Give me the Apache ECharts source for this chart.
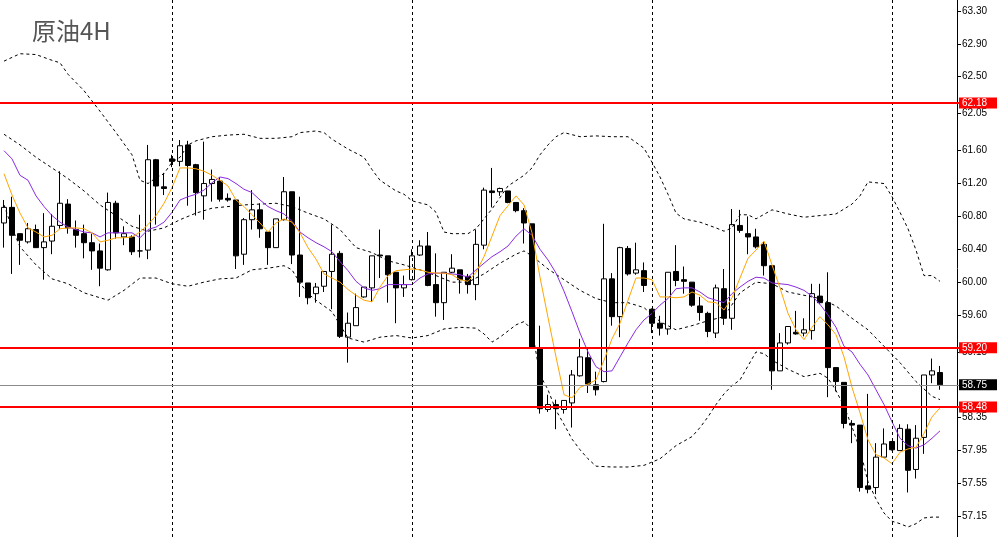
<!DOCTYPE html>
<html>
<head>
<meta charset="utf-8">
<title>原油4H</title>
<script src="https://cdn.jsdelivr.net/npm/echarts@6/dist/echarts.min.js"></script>
<style>
  html, body { margin: 0; padding: 0; background: #fff; }
  #chart { width: 997px; height: 537px; }
</style>
</head>
<body>
<div id="chart"></div>
<script>
// K线数据 (开/收/低/高)
const opens = [60.72,60.91,60.59,60.49,60.64,60.42,60.50,60.69,60.95,60.64, 60.59,60.48,60.38,60.15,60.96,60.55,60.55,60.38,60.39,61.49,
  61.16,61.50,61.47,61.67,61.43,61.05,61.20,61.23,61.02,61.00, 60.34,60.76,60.88,60.61,60.42,60.76,61.10,60.33,59.99,59.86,
  59.95,60.13,60.35,59.33,59.47,59.82,59.93,60.33,60.32,60.12, 59.93,60.03,60.33,60.44,59.97,59.75,60.12,60.15,60.07,59.97,
  60.45,61.11,61.10,61.11,60.97,60.87,60.71,59.19,58.45,58.51, 58.45,58.53,58.86,59.08,58.75,58.79,60.04,59.58,60.41,60.11,
  60.14,59.67,59.50,59.43,60.13,60.03,60.00,59.71,59.62,59.38, 59.92,59.56,60.69,60.59,60.55,60.46,60.20,58.92,59.26,59.39,
  59.38,59.41,59.83,59.75,58.96,58.78,58.28,58.26,57.52,57.50, 57.87,58.06,57.95,58.21,57.72,58.11,58.87,58.90];
const closes = [60.91,60.57,60.51,60.65,60.42,60.49,60.68,60.96,60.66,60.57, 60.48,60.38,60.17,60.97,60.60,60.59,60.37,60.38,61.49,61.17,
  61.14,61.47,61.66,61.42,61.09,61.20,61.25,61.01,61.00,60.32, 60.76,60.88,60.65,60.42,60.77,61.10,60.33,60.00,59.81,59.94,
  60.13,60.34,59.34,59.50,59.69,59.94,60.32,60.32,60.09,59.93, 59.97,60.32,60.44,59.96,59.75,60.12,60.17,60.03,59.97,60.46,
  61.12,61.09,61.14,60.97,60.87,60.72,59.20,58.46,58.51,58.46, 58.56,58.87,59.09,58.76,58.69,60.04,59.58,60.42,60.10,60.15,
  59.96,59.50,59.44,60.12,60.02,60.01,59.72,59.63,59.40,59.93, 59.56,60.70,60.63,60.55,60.43,60.20,58.92,59.26,59.46,59.37,
  59.42,59.86,59.75,58.96,58.79,58.28,58.26,57.50,57.48,57.87, 58.03,57.96,58.22,57.71,58.10,58.87,58.92,58.75];
const lows = [60.42,60.10,60.21,60.47,60.42,60.03,60.34,60.65,60.59,60.42, 60.29,60.15,59.95,60.14,60.53,60.45,60.33,60.30,60.28,60.70,
  61.06,61.40,61.41,60.93,60.81,60.76,60.98,60.98,60.98,60.16, 60.21,60.64,60.54,60.21,60.42,60.75,60.22,59.82,59.73,59.75,
  59.88,59.67,59.32,59.02,59.47,59.81,59.76,60.05,59.75,59.50, 59.82,60.02,60.32,59.95,59.58,59.54,60.11,59.86,59.86,59.78,
  60.40,60.91,61.05,60.96,60.85,60.47,59.20,58.40,58.42,58.21, 58.40,58.23,58.85,58.65,58.62,58.78,59.47,59.33,60.08,60.09,
  59.88,59.38,59.35,59.36,59.95,59.86,59.70,59.53,59.33,59.32, 59.48,59.42,60.60,60.34,60.41,60.08,58.69,58.92,59.24,59.36,
  59.34,59.30,59.73,58.60,58.67,58.22,58.04,57.45,57.43,57.42, 57.86,57.95,57.95,57.44,57.61,57.91,58.77,58.69];
const highs = [61.00,61.04,60.59,60.72,60.70,60.84,60.83,61.35,61.01,60.75, 60.70,60.59,60.47,61.09,60.99,60.68,60.57,60.82,61.67,61.50,
  61.33,61.55,61.73,61.72,61.44,61.71,61.37,61.28,61.08,61.00, 60.78,61.12,60.96,60.61,60.77,61.28,61.10,61.04,59.99,59.99,
  60.13,60.70,60.38,59.63,59.86,59.94,60.32,60.64,60.32,60.12, 60.08,60.40,60.51,60.61,60.35,60.12,60.34,60.15,60.10,60.64,
  61.15,61.39,61.15,61.11,60.97,60.90,60.71,59.47,58.63,58.57, 58.56,58.93,59.31,59.21,58.91,60.71,60.11,60.43,60.44,60.48,
  60.24,59.68,59.59,60.12,60.45,60.19,60.00,59.82,59.64,59.97, 60.16,60.89,60.88,60.80,60.65,60.49,60.20,59.38,59.46,59.65,
  59.56,59.98,59.98,60.12,58.96,58.78,58.32,58.26,58.64,58.04, 58.22,58.06,58.27,58.27,58.26,58.87,59.07,58.98];

// 均线 (橙色快线 / 紫色慢线)
const maFast = [61.32,61.06,60.84,60.66,60.61,60.55,60.57,60.65,60.66,60.66, 60.65,60.60,60.49,60.51,60.54,60.54,60.55,60.61,60.70,60.81,
  60.96,61.15,61.39,61.39,61.38,61.35,61.30,61.24,61.17,61.00, 60.92,60.82,60.72,60.61,60.72,60.77,60.73,60.60,60.42,60.28,
  60.10,60.05,60.00,59.91,59.84,59.78,59.76,59.94,60.08,60.14, 60.15,60.16,60.15,60.12,60.11,60.11,60.09,60.03,60.01,60.12,
  60.31,60.56,60.81,60.93,61.05,60.94,60.60,60.06,59.57,59.09, 58.63,58.59,58.72,58.76,58.81,59.05,59.31,59.50,59.78,60.05,
  60.05,60.03,59.82,59.82,59.81,59.82,59.88,59.84,59.76,59.75, 59.66,59.81,60.05,60.29,60.39,60.50,60.21,59.93,59.62,59.42,
  59.30,59.45,59.58,59.48,59.36,59.09,58.72,58.41,58.08,57.90, 57.86,57.79,57.93,57.97,57.99,58.16,58.36,58.47];
const maSlow = [61.60,61.50,61.30,61.24,61.05,60.92,60.81,60.73,60.67,60.64, 60.61,60.60,60.55,60.60,60.60,60.60,60.60,60.54,60.64,60.67,
  60.73,60.85,61.00,61.04,61.07,61.12,61.21,61.28,61.26,61.20, 61.13,61.09,61.00,60.92,60.87,60.83,60.74,60.61,60.54,60.48,
  60.43,60.37,60.25,60.14,60.01,59.93,59.90,59.92,59.97,59.97, 59.97,59.97,60.05,60.10,60.11,60.11,60.10,60.09,60.06,60.15,
  60.23,60.31,60.37,60.44,60.56,60.65,60.57,60.40,60.27,60.11, 59.89,59.64,59.38,59.15,58.97,58.91,58.92,59.09,59.26,59.42,
  59.54,59.62,59.72,59.80,59.92,59.93,59.93,59.88,59.81,59.78, 59.75,59.86,59.94,60.01,60.06,60.05,59.99,59.98,59.97,59.94,
  59.90,59.83,59.73,59.60,59.45,59.22,59.15,59.00,58.87,58.69, 58.51,58.30,58.10,58.01,57.98,58.02,58.10,58.19];

// 布林带 [K线序号, 价格]
const upperBand = [[0,62.69],[2,62.78],[4,62.77],[6,62.70],[7,62.67],[8,62.53],[10,62.33],[12,62.08],[14,61.82],[16,61.55],[17,61.24],
  [18,61.20],[19,61.27],[20,61.32],[21,61.46],[22,61.52],[23,61.67],[24,61.72],[26,61.77],[28,61.79],[30,61.80],[32,61.75],[34,61.75],
  [36,61.77],[37,61.82],[39,61.84],[40,61.82],[41,61.74],[43,61.62],[45,61.52],[46,61.37],[47,61.24],[49,61.11],[50,61.07],[51,60.99],
  [53,60.94],[54,60.85],[55,60.61],[56,60.59],[58,60.59],[59,60.65],[61,60.89],[63,61.17],[65,61.30],[66,61.39],[67,61.55],[68,61.67],
  [69,61.77],[70,61.82],[72,61.77],[74,61.78],[76,61.77],[78,61.77],[80,61.63],[81,61.46],[82,61.28],[83,61.07],[84,60.84],[85,60.77],
  [87,60.73],[89,60.66],[90,60.62],[91,60.66],[92,60.82],[93,60.82],[94,60.77],[96,60.88],[98,60.83],[100,60.79],[102,60.81],[104,60.83],
  [106,60.95],[107,61.05],[108,61.22],[110,61.20],[111,61.04],[112,60.85],[113,60.65],[114,60.39],[115,60.08],[116,60.08],[117,60.01]];
const middleBand = [[0,61.80],[2,61.67],[4,61.52],[6,61.39],[8,61.26],[10,61.11],[12,60.94],[14,60.81],[16,60.68],[18,60.62],[20,60.66],
  [22,60.76],[24,60.84],[26,60.90],[28,60.92],[30,60.94],[32,60.95],[34,60.96],[36,60.92],[38,60.84],[40,60.77],[42,60.64],[44,60.42],
  [46,60.36],[48,60.26],[50,60.21],[52,60.15],[54,60.08],[56,60.00],[58,60.00],[60,60.10],[62,60.23],[64,60.34],[65,60.38],[66,60.32],
  [68,60.16],[70,60.03],[72,59.90],[74,59.80],[76,59.75],[78,59.75],[80,59.69],[82,59.52],[84,59.42],[86,59.47],[88,59.53],[90,59.58],
  [92,59.87],[94,60.00],[96,59.98],[98,59.88],[100,59.84],[102,59.80],[104,59.71],[106,59.56],[108,59.42],[110,59.22],[112,59.02],
  [114,58.79],[116,58.61],[117,58.57]];
const lowerBand = [[0,60.94],[1,60.66],[2,60.43],[4,60.21],[6,60.04],[8,59.98],[10,59.87],[12,59.81],[13,59.78],[15,59.90],[17,60.05],
  [19,60.05],[21,59.98],[23,59.95],[25,60.00],[27,60.04],[29,60.05],[31,60.15],[33,60.17],[35,60.20],[36,60.15],[37,59.99],[38,59.86],
  [39,59.78],[40,59.71],[41,59.64],[42,59.48],[43,59.32],[45,59.27],[47,59.33],[49,59.35],[51,59.32],[53,59.35],[55,59.43],[57,59.45],
  [59,59.44],[60,59.37],[61,59.27],[62,59.33],[64,59.48],[65,59.52],[66,59.42],[67,58.87],[68,58.69],[69,58.44],[70,58.27],[71,58.09],
  [72,57.96],[73,57.85],[74,57.76],[76,57.75],[78,57.75],[80,57.77],[82,57.85],[84,58.01],[86,58.12],[87,58.23],[88,58.36],[89,58.51],
  [90,58.64],[91,58.74],[92,58.81],[93,58.98],[94,59.15],[95,59.13],[96,59.05],[98,58.94],[100,58.85],[102,58.89],[103,58.83],[104,58.68],
  [105,58.49],[106,58.24],[107,57.96],[108,57.57],[109,57.36],[110,57.19],[111,57.09],[112,57.06],[113,57.02],[114,57.06],[115,57.13],
  [116,57.14],[117,57.14]];

// 价格刻度 / 水平线 / 日分隔线
const priceTicks = [63.30, 62.90, 62.50, 62.05, 61.60, 61.20, 60.80, 60.40, 60.00, 59.60, 59.15, 58.75, 58.35, 57.95, 57.55, 57.15];
const redLevels = [62.18, 59.20, 58.48];
const lastPrice = 58.75;
const daySeparators = [21, 51, 81, 111];

const yMin = 56.898;
const yMax = 63.434;
const barSlots = opens.length + 2; // 右侧留白

const categories = [];
for (let i = 0; i < barSlots; i++) categories.push(String(i));
const candleData = opens.map((o, i) => [o, closes[i], lows[i], highs[i]]);

const chart = echarts.init(document.getElementById('chart'));

const priceLabel = (bg) => ({
  show: true,
  position: 'end',
  distance: -1,
  formatter: p => Number(p.value).toFixed(2),
  color: '#fff',
  backgroundColor: bg,
  fontFamily: 'Liberation Sans',
  fontSize: 10,
  lineHeight: 11,
  padding: [0, 10, 0, 3]
});

const bandStyle = { color: '#000', width: 1, type: [3, 3] };

const option = {
  animation: false,
  backgroundColor: '#fff',
  title: {
    text: '原油4H',
    left: 32,
    top: 19,
    padding: 0,
    textStyle: { fontFamily: 'Noto Sans CJK SC', fontSize: 24, fontWeight: 'normal', color: '#555' }
  },
  grid: { left: 0, right: 37, top: 0, bottom: 0 },
  xAxis: {
    type: 'category',
    data: categories,
    boundaryGap: true,
    axisLine: { show: false },
    axisTick: { show: false },
    axisLabel: { show: false },
    splitLine: { show: false }
  },
  yAxis: {
    type: 'value',
    position: 'right',
    offset: -3,
    min: yMin,
    max: yMax,
    axisLine: { show: true, lineStyle: { color: '#000', width: 1 } },
    axisTick: { show: true, length: 4, lineStyle: { color: '#000' }, customValues: priceTicks },
    axisLabel: {
      show: true,
      customValues: priceTicks,
      formatter: v => v.toFixed(2),
      fontFamily: 'Liberation Sans',
      fontSize: 10,
      color: '#000',
      margin: 5
    },
    splitLine: { show: false }
  },
  series: [
    {
      // 日分隔线
      type: 'line',
      data: [],
      z: 1,
      silent: true,
      markLine: {
        symbol: 'none',
        silent: true,
        label: { show: false },
        lineStyle: { color: '#000', width: 1, type: [3, 3] },
        data: daySeparators.map(i => ({ xAxis: i }))
      }
    },
    {
      type: 'candlestick',
      data: candleData,
      barWidth: 5,
      z: 2,
      itemStyle: { color: '#fff', color0: '#000', borderColor: '#000', borderColor0: '#000', borderWidth: 1 }
    },
    { type: 'line', data: upperBand, symbol: 'none', z: 3, silent: true, lineStyle: bandStyle },
    { type: 'line', data: middleBand, symbol: 'none', z: 3, silent: true, lineStyle: bandStyle },
    { type: 'line', data: lowerBand, symbol: 'none', z: 3, silent: true, lineStyle: bandStyle },
    { type: 'line', data: maSlow, symbol: 'none', z: 4, silent: true, lineStyle: { color: '#8a2be2', width: 1 } },
    { type: 'line', data: maFast, symbol: 'none', z: 4, silent: true, lineStyle: { color: '#ffa500', width: 1 } },
    {
      // 关键价位
      type: 'line',
      data: [],
      z: 5,
      silent: true,
      markLine: {
        symbol: 'none',
        silent: true,
        data: [
          ...redLevels.map(v => ({ yAxis: v, lineStyle: { color: '#ff0000', width: 2, type: 'solid' }, label: priceLabel('#ff0000') })),
          { yAxis: lastPrice, lineStyle: { color: '#8c8c8c', width: 1, type: 'solid' }, label: priceLabel('#000') }
        ]
      }
    }
  ]
};

chart.setOption(option);
</script>
</body>
</html>
